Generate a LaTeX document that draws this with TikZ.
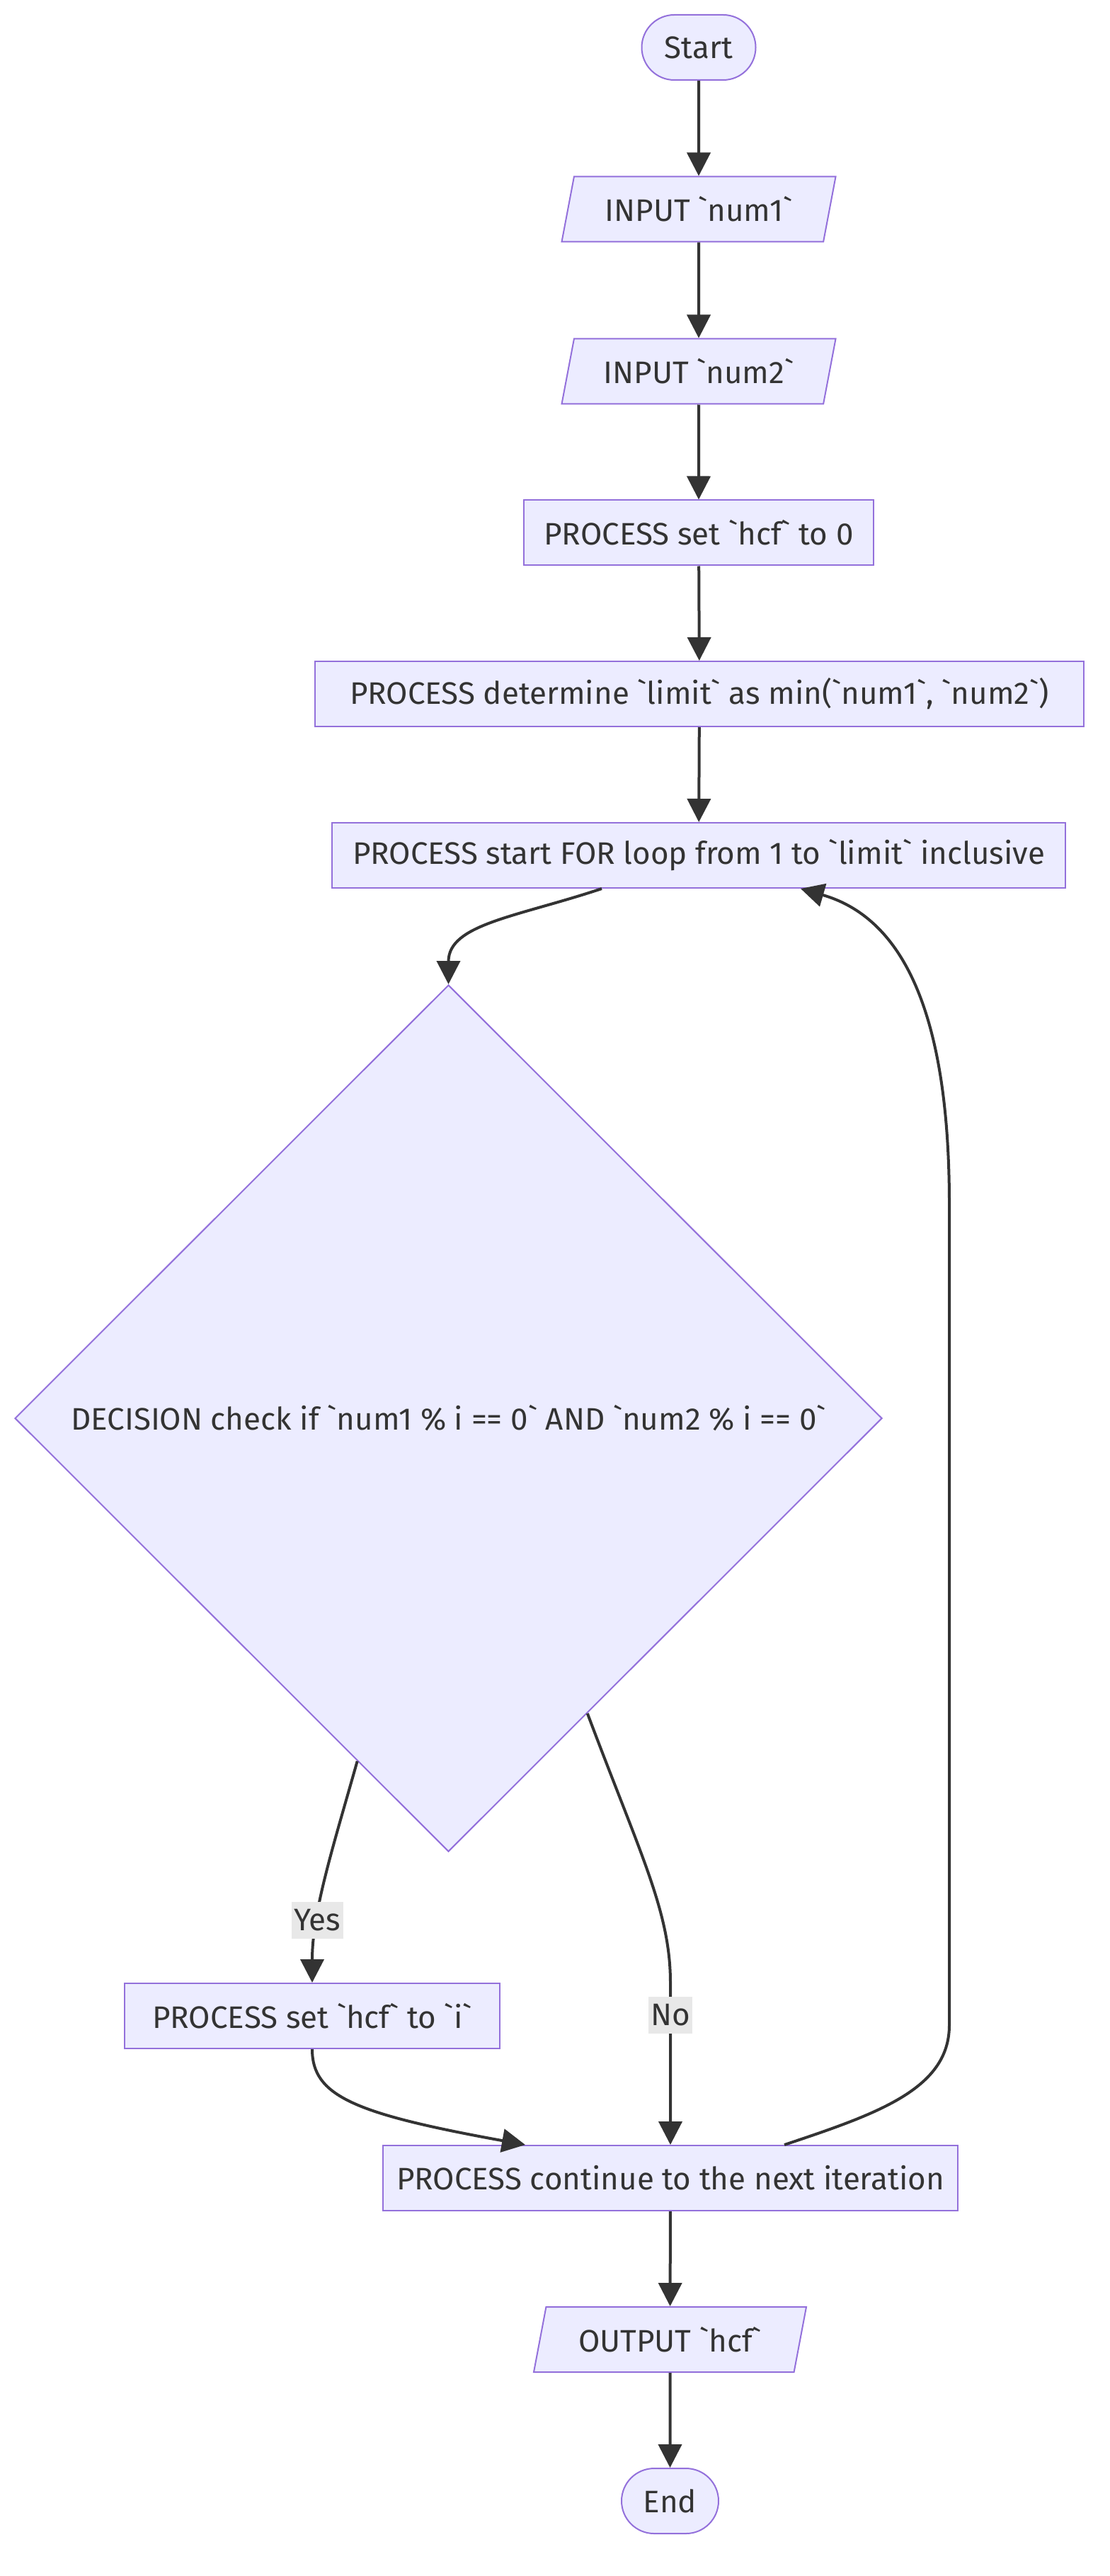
\documentclass[tikz,border=0pt]{standalone}
\usepackage{fontspec}
\usepackage{tikz}
\usetikzlibrary{arrows.meta,shapes.geometric,shapes.misc,calc}
\newfontfamily\chartfont{Fira Sans}
\definecolor{nodefill}{HTML}{ECECFF}
\definecolor{nodeline}{HTML}{9370DB}
\definecolor{inkdark}{HTML}{333333}
\definecolor{labelbg}{HTML}{E8E8E8}

\begin{document}
\begin{tikzpicture}[
  font=\chartfont\fontsize{12.5}{15}\selectfont, text=inkdark,
  flow/.style={-{Triangle[length=0.33cm,width=0.33cm]}, line width=0.04cm, inkdark},
  box/.style={draw=nodeline, fill=nodefill, line width=0.02cm, minimum height=0.92cm, inner sep=0pt},
  term/.style={box, rounded rectangle},
  io/.style={box, trapezium, trapezium left angle=64, trapezium right angle=116, trapezium stretches body},
  decide/.style={box, diamond, aspect=1, minimum width=12.25cm, minimum height=12.24cm},
  lbl/.style={fill=labelbg, inner xsep=1pt, inner ysep=3pt}
]
\useasboundingbox (0,0) rectangle (15.68,-36.38);

% main column
\node[term, minimum width=1.61cm] (start) at (9.87,-0.67) {Start};
\node[io, minimum width=3.87cm] (num1) at (9.87,-2.955) {INPUT `num1`};
\node[io, minimum width=3.87cm] (num2) at (9.87,-5.245) {INPUT `num2`};
\node[box, minimum width=4.94cm] (hcfzero) at (9.87,-7.525) {PROCESS set `hcf` to 0};
\node[box, minimum width=10.86cm] (limit) at (9.88,-9.80) {PROCESS determine `limit` as min(`num1`, `num2`)};
\node[box, minimum width=10.36cm] (forloop) at (9.87,-12.08) {PROCESS start FOR loop from 1 to `limit` inclusive};

% decision and branches
\node[decide] (check) at (6.335,-20.03) {DECISION check if `num1 \% i == 0` AND `num2 \% i == 0`};
\node[box, minimum width=5.30cm] (sethcf) at (4.41,-28.47) {PROCESS set `hcf` to `i`};
\node[box, minimum width=8.12cm] (next) at (9.47,-30.76) {PROCESS continue to the next iteration};

% output and end
\node[io, minimum width=3.85cm] (output) at (9.465,-33.04) {OUTPUT `hcf`};
\node[term, minimum width=1.37cm] (end) at (9.465,-35.32) {End};

% straight connectors
\draw[flow] (start) -- (num1);
\draw[flow] (num1) -- (num2);
\draw[flow] (num2) -- (hcfzero);
\draw[flow] (hcfzero) -- (limit);
\draw[flow] (limit) -- (forloop);
\draw[flow] (next) -- (output);
\draw[flow] (output) -- (end);

% loop body
\draw[flow] ([xshift=-1.37cm]forloop.south) .. controls (7.3,-12.95) and (6.335,-13.05) .. (check.north);
\draw[flow] ($(check.west)!0.79!(check.south)$) .. controls (4.7,-26.1) and (4.41,-27.0) .. node[lbl, pos=0.7] {Yes} (sethcf.north);
\draw[flow] ($(check.east)!0.68!(check.south)$) .. controls (9.05,-26.2) and (9.47,-27.0) .. (9.47,-28.0)
  -- node[lbl, pos=0.2] {No} (next.north);
\draw[flow] (sethcf.south) .. controls (4.41,-29.6) and (5.0,-29.85) .. ([xshift=-2.05cm]next.north);

% back to loop head
\draw[flow] ([xshift=1.61cm]next.north) .. controls (12.4,-29.85) and (13.41,-29.5) .. (13.41,-28.6)
  -- (13.41,-17.0) .. controls (13.41,-14.2) and (12.7,-12.95) .. ([xshift=1.44cm]forloop.south);
\end{tikzpicture}
\end{document}
